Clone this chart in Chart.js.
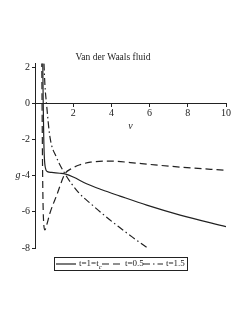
<!DOCTYPE html>
<html>
<head>
<meta charset="utf-8">
<script src="https://cdn.jsdelivr.net/npm/chart.js@4.4.0/dist/chart.umd.min.js"></script>
<style>
  html, body { margin: 0; padding: 0; background: #fff; }
  #wrap { width: 249px; height: 323px; position: relative; }
</style>
</head>
<body>
<div id="wrap"><canvas id="chart"></canvas></div>
<script>
// values (v = reduced volume, g = Gibbs energy)
const vCritical = [0.40, 0.43, 0.46, 0.49, 0.55, 0.65, 0.87, 1.3, 1.6, 2.0, 2.7, 3.5, 4.45, 5.85, 7.6, 10];
const gCritical = [3.0, 0.0, -2.0, -3.0, -3.6, -3.78, -3.82, -3.87, -3.92, -4.08, -4.45, -4.78, -5.13, -5.63, -6.18, -6.82];

const vLow = [0.35, 0.37, 0.40, 0.44, 0.52, 0.62, 0.78, 1.13, 1.57, 1.9, 2.35, 2.9, 4.0, 5.0, 6.0, 7.6, 10];
const gLow = [3.0, 0.0, -4.0, -6.3, -7.0, -6.7, -6.08, -5.1, -3.9, -3.62, -3.4, -3.26, -3.2, -3.28, -3.38, -3.53, -3.71];

const vHigh = [0.44, 0.52, 0.6, 0.78, 1.13, 1.57, 2.25, 2.97, 3.75, 4.35, 5.1, 5.85];
const gHigh = [3.0, 1.0, 0.0, -1.85, -3.0, -3.9, -4.9, -5.6, -6.3, -6.8, -7.4, -7.97];

const xTicks = [0, 2, 4, 6, 8, 10];
const yTicks = [-8, -6, -4, -2, 0, 2];

const legendLabels = ['t=1=t', 't=0.5', 't=1.5'];
const lineDashes = [[], [7, 4], [7, 3, 1.5, 3]];

const INK = '#222';
const SERIF = '"Liberation Serif", "DejaVu Serif", serif';

const toPoints = (xs, ys) => xs.map((x, i) => ({ x, y: ys[i] }));

// draws the boxed legend under the plot and the horizontal "g" axis label
const extrasPlugin = {
    id: 'extras',
    afterDraw(chart) {
        const ctx = chart.ctx;
        const area = chart.chartArea;
        const yScale = chart.scales.y;
        ctx.save();

        // "g" label next to the y axis
        ctx.fillStyle = INK;
        ctx.font = 'italic 10px ' + SERIF;
        ctx.textAlign = 'center';
        ctx.textBaseline = 'middle';
        ctx.fillText('g', area.left - 17, yScale.getPixelForValue(-4));

        // legend box
        const boxLeft = area.left + 19;
        const boxTop = area.bottom + 9;
        const boxW = 133;
        const boxH = 13;
        ctx.strokeStyle = INK;
        ctx.lineWidth = 1;
        ctx.setLineDash([]);
        ctx.strokeRect(boxLeft + 0.5, boxTop + 0.5, boxW, boxH);

        const midY = boxTop + boxH / 2 + 0.5;
        const sampleStarts = [2, 48, 89];
        ctx.font = '9px ' + SERIF;
        ctx.textAlign = 'left';
        legendLabels.forEach((label, i) => {
            const x = boxLeft + sampleStarts[i];
            ctx.beginPath();
            ctx.setLineDash(lineDashes[i]);
            ctx.lineWidth = 1.2;
            ctx.moveTo(x, midY);
            ctx.lineTo(x + 20, midY);
            ctx.stroke();
            ctx.setLineDash([]);
            const tx = x + 23;
            ctx.fillText(label, tx, midY);
            if (i === 0) {
                const w = ctx.measureText(label).width;
                ctx.font = 'italic 6.5px ' + SERIF;
                ctx.fillText('c', tx + w, midY + 3);
                ctx.font = '9px ' + SERIF;
            }
        });
        ctx.restore();
    }
};

const makeDataset = (label, xs, ys, dash) => ({
    label,
    data: toPoints(xs, ys),
    borderColor: INK,
    backgroundColor: INK,
    borderWidth: 1.2,
    borderDash: dash,
    pointRadius: 0,
    fill: false,
    cubicInterpolationMode: 'monotone'
});

new Chart(document.getElementById('chart'), {
    type: 'line',
    data: {
        datasets: [
            makeDataset('t=1=tc', vCritical, gCritical, lineDashes[0]),
            makeDataset('t=0.5', vLow, gLow, lineDashes[1]),
            makeDataset('t=1.5', vHigh, gHigh, lineDashes[2])
        ]
    },
    options: {
        responsive: true,
        maintainAspectRatio: false,
        animation: false,
        layout: {
            padding: { left: 0, right: 23, top: 52, bottom: 75 }
        },
        scales: {
            x: {
                type: 'linear',
                min: 0,
                max: 10,
                position: { y: 0 },
                afterBuildTicks: scale => { scale.ticks = xTicks.map(value => ({ value })); },
                ticks: {
                    color: INK,
                    font: { family: SERIF, size: 10 },
                    padding: 1,
                    maxRotation: 0,
                    callback: value => (value === 0 ? '' : value)
                },
                grid: { drawOnChartArea: false, tickLength: 3, color: INK },
                border: { color: INK, width: 1 },
                title: {
                    display: true,
                    text: 'v',
                    color: INK,
                    font: { family: SERIF, size: 10, style: 'italic' },
                    padding: 0
                }
            },
            y: {
                type: 'linear',
                min: -8,
                max: 2.2,
                afterBuildTicks: scale => { scale.ticks = yTicks.map(value => ({ value })); },
                afterFit: scale => { scale.width = 35; },
                ticks: {
                    color: INK,
                    font: { family: SERIF, size: 10 },
                    padding: 2
                },
                grid: { drawOnChartArea: false, tickLength: 3, color: INK },
                border: { color: INK, width: 1 }
            }
        },
        plugins: {
            legend: { display: false },
            tooltip: { enabled: false },
            title: {
                display: true,
                text: 'Van der Waals fluid',
                color: INK,
                font: { family: SERIF, size: 9.5, weight: 'normal' },
                padding: { top: 0, bottom: 0 }
            }
        }
    },
    plugins: [extrasPlugin]
});
</script>
</body>
</html>
